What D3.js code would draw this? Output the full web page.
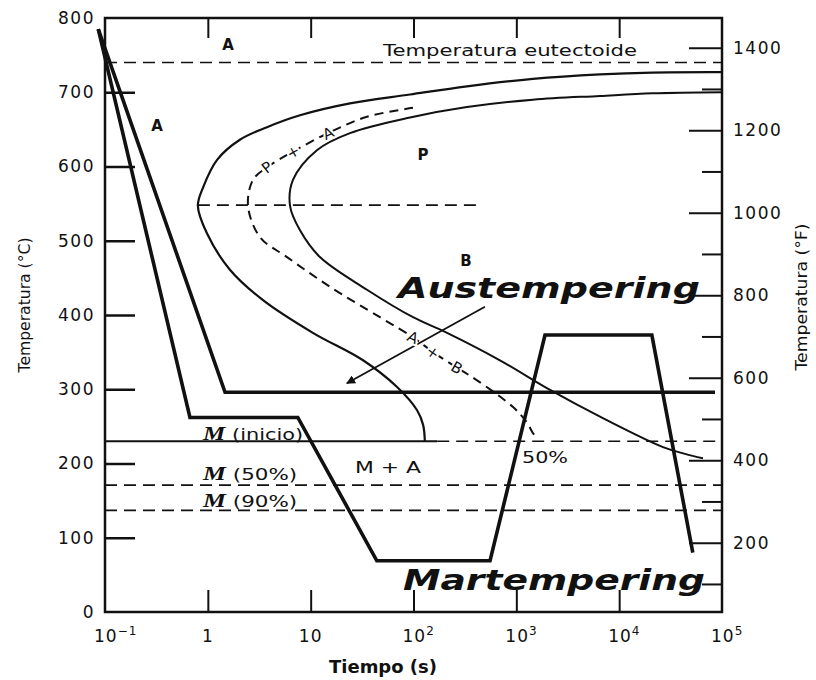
<!DOCTYPE html>
<html>
<head>
<meta charset="utf-8">
<script src="https://cdn.jsdelivr.net/npm/d3@7"></script>
<style>
  body { margin: 0; background: #fff; }
  text { font-family: "DejaVu Sans", sans-serif; fill: #111; }
</style>
</head>
<body>
<div id="chart"></div>
<script>
const width = 816;
const height = 680;

// axes
const decades = [0.1, 1, 10, 100, 1000, 10000, 100000];
const decadeBase = ["10", "1", "10", "10", "10", "10", "10"];
const decadeSup = ["\u22121", "", "", "2", "3", "4", "5"];
const innerDecades = [1, 10, 100, 1000, 10000];
const tempTicksC = [0, 100, 200, 300, 400, 500, 600, 700, 800];
const tempTicksF = [200, 400, 600, 800, 1000, 1200, 1400];
const tempMinorF = [100, 300, 500, 700, 900, 1100, 1300];

// transformation curves, [time (s), temperature (°C)]
const startCurve = [
  [100000, 727], [21000, 726.5], [6510, 724], [1450, 718], [331, 708], [92.5, 697],
  [24.1, 685], [7.88, 669], [3.76, 653], [2.05, 636], [1.23, 609], [0.90, 572], [0.80, 547],
  [0.98, 510], [1.64, 461], [3.44, 420], [10.5, 376], [32.3, 339], [69.2, 303],
  [108, 272], [124, 252], [129, 229]
];
const halfCurve = [
  [98.9, 679], [35.3, 667], [14.8, 645], [6.73, 620], [3.76, 599], [2.75, 582],
  [2.46, 547], [3.21, 505], [5.89, 478], [15.4, 438], [47.2, 397], [98.9, 370],
  [155, 350], [265, 329], [415, 312], [929, 276], [1270, 255], [1450, 241], [1630, 233]
];
const finishCurve = [
  [100000, 700], [21000, 698.5], [6510, 695], [1450, 690], [331, 680], [92.5, 666],
  [24.1, 645], [11.5, 622], [6.73, 582], [6.30, 547], [7.88, 514], [12.3, 478], [35.3, 434],
  [98.9, 397], [212, 376], [693, 339], [2130, 299], [6510, 263], [26700, 222],
  [43700, 213], [65300, 207]
];

// heat treatment paths
const austempering = [[0.086, 785], [1.47, 296], [85500, 296]];
const martempering = [
  [0.086, 785], [0.67, 262], [7.5, 262], [44, 69], [555, 69],
  [1900, 373], [20800, 373], [52000, 80]
];

const eutectoidTemp = 740;
const noseTemp = 548;
const noseRange = [0.80, 463];
const msTemp = 230;
const msSolidEnd = 170;
const m50Temp = 171;
const m90Temp = 137;
const arrowFrom = [495, 411];
const arrowTo = [22.5, 308];

const svg = d3.select("#chart").append("svg")
  .attr("width", width)
  .attr("height", height);

const mLeft = 105, mRight = 722, mTop = 18, mBottom = 612;

const x = d3.scaleLog().domain([0.1, 100000]).range([mLeft, mRight]);
const y = d3.scaleLinear().domain([0, 800]).range([mBottom, mTop]);
// 0 °C = 32 °F, 800 °C = 1472 °F
const yF = d3.scaleLinear().domain([32, 1472]).range([mBottom, mTop]);

const smooth = d3.line().x(d => x(d[0])).y(d => y(d[1])).curve(d3.curveCatmullRom.alpha(0.5));
const straight = d3.line().x(d => x(d[0])).y(d => y(d[1]));

// frame
svg.append("rect")
  .attr("x", mLeft).attr("y", mTop)
  .attr("width", mRight - mLeft).attr("height", mBottom - mTop)
  .attr("fill", "none").attr("stroke", "#111").attr("stroke-width", 2.5);

// left axis
svg.append("g")
  .attr("transform", `translate(${mLeft},0)`)
  .call(d3.axisLeft(y).tickValues(tempTicksC).tickSize(-30).tickPadding(10))
  .call(g => g.select(".domain").remove())
  .call(g => g.selectAll(".tick line").filter(d => d === 0 || d === 800).remove())
  .call(g => g.selectAll(".tick line").attr("stroke", "#111").attr("stroke-width", 2.5))
  .call(g => g.selectAll("text").attr("font-family", "DejaVu Sans").attr("font-size", 17)
    .attr("letter-spacing", 1.5).attr("fill", "#111"));

// right axis (°F)
svg.append("g")
  .attr("transform", `translate(${mRight},0)`)
  .call(d3.axisRight(yF).tickValues(tempTicksF).tickSize(-33).tickPadding(11).tickFormat(d3.format("d")))
  .call(g => g.select(".domain").remove())
  .call(g => g.selectAll(".tick line").attr("stroke", "#111").attr("stroke-width", 2))
  .call(g => g.selectAll("text").attr("font-family", "DejaVu Sans").attr("font-size", 17)
    .attr("letter-spacing", 1.5).attr("fill", "#111"));

svg.append("g")
  .attr("transform", `translate(${mRight},0)`)
  .call(d3.axisRight(yF).tickValues(tempMinorF).tickSize(-20).tickFormat(""))
  .call(g => g.select(".domain").remove())
  .call(g => g.selectAll(".tick line").attr("stroke", "#111").attr("stroke-width", 2));

// bottom and top ticks
svg.append("g")
  .attr("transform", `translate(0,${mBottom})`)
  .call(d3.axisBottom(x).tickValues(innerDecades).tickSize(-22).tickFormat(""))
  .call(g => g.select(".domain").remove())
  .call(g => g.selectAll(".tick line").attr("stroke", "#111").attr("stroke-width", 2));

svg.append("g")
  .attr("transform", `translate(0,${mTop})`)
  .call(d3.axisTop(x).tickValues(innerDecades).tickSize(-20).tickFormat(""))
  .call(g => g.select(".domain").remove())
  .call(g => g.selectAll(".tick line").attr("stroke", "#111").attr("stroke-width", 2));

// time labels
const tl = svg.append("g").selectAll("text")
  .data(decades)
  .join("text")
  .attr("x", (d, i) => decadeSup[i] ? x(d) - 11 : x(d))
  .attr("y", 642)
  .attr("text-anchor", (d, i) => decadeSup[i] ? "start" : "middle")
  .attr("font-size", 17)
  .attr("letter-spacing", 1);
tl.append("tspan").text((d, i) => decadeBase[i]);
tl.append("tspan").attr("font-size", 12).attr("dy", -7).text((d, i) => decadeSup[i]);

// axis titles
svg.append("text")
  .attr("x", 383).attr("y", 673)
  .attr("text-anchor", "middle")
  .attr("font-family", "Liberation Sans")
  .attr("font-weight", "bold")
  .attr("font-size", 17)
  .attr("textLength", 108).attr("lengthAdjust", "spacingAndGlyphs")
  .text("Tiempo (s)");

svg.append("text")
  .attr("transform", "translate(30,305) rotate(-90)")
  .attr("text-anchor", "middle")
  .attr("font-family", "Liberation Sans Narrow, Liberation Sans")
  .attr("font-size", 16)
  .attr("textLength", 135).attr("lengthAdjust", "spacingAndGlyphs")
  .text("Temperatura (°C)");

svg.append("text")
  .attr("transform", "translate(807,297) rotate(-90)")
  .attr("text-anchor", "middle")
  .attr("font-family", "Liberation Sans Narrow, Liberation Sans")
  .attr("font-size", 16)
  .attr("textLength", 147).attr("lengthAdjust", "spacingAndGlyphs")
  .text("Temperatura (°F)");

// horizontal reference lines
const dashed = "12,7";
function hline(t0, t1, temp, dash, w) {
  svg.append("line")
    .attr("x1", x(t0)).attr("x2", x(t1))
    .attr("y1", y(temp)).attr("y2", y(temp))
    .attr("stroke", "#111").attr("stroke-width", w)
    .attr("stroke-dasharray", dash);
}
hline(0.1, 100000, eutectoidTemp, dashed, 1.6);
hline(noseRange[0], noseRange[1], noseTemp, dashed, 1.6);
hline(0.1, msSolidEnd, msTemp, null, 2);
hline(msSolidEnd, 100000, msTemp, dashed, 1.6);
hline(0.1, 100000, m50Temp, dashed, 1.8);
hline(0.1, 100000, m90Temp, dashed, 1.8);

// transformation curves
svg.append("path").attr("d", smooth(startCurve))
  .attr("fill", "none").attr("stroke", "#111").attr("stroke-width", 2.2);
svg.append("path").attr("d", smooth(finishCurve))
  .attr("fill", "none").attr("stroke", "#111").attr("stroke-width", 2);
svg.append("path").attr("d", smooth(halfCurve))
  .attr("fill", "none").attr("stroke", "#111").attr("stroke-width", 2)
  .attr("stroke-dasharray", "9,6");

// cooling paths
[austempering, martempering].forEach(p => {
  svg.append("path").attr("d", straight(p))
    .attr("fill", "none").attr("stroke", "#111").attr("stroke-width", 3.6)
    .attr("stroke-linejoin", "miter");
});

// arrow
svg.append("defs").append("marker")
  .attr("id", "head")
  .attr("viewBox", "0 0 10 10")
  .attr("refX", 9).attr("refY", 5)
  .attr("markerWidth", 9).attr("markerHeight", 9)
  .attr("markerUnits", "userSpaceOnUse")
  .attr("orient", "auto")
  .append("path").attr("d", "M0,0L10,5L0,10Z").attr("fill", "#111");
svg.append("line")
  .attr("x1", x(arrowFrom[0])).attr("y1", y(arrowFrom[1]))
  .attr("x2", x(arrowTo[0])).attr("y2", y(arrowTo[1]))
  .attr("stroke", "#111").attr("stroke-width", 1.8)
  .attr("marker-end", "url(#head)");

// labels along the 50% curve
const curveLabels = [
  ["P", 3.76, 599, -38], ["+", 6.73, 620, -30], ["A", 14.8, 645, -25],
  ["A", 98.9, 370, 25], ["+", 155, 350, 35], ["B", 265, 329, 30]
];
svg.append("g").selectAll("text")
  .data(curveLabels)
  .join("text")
  .attr("transform", d => `translate(${x(d[1])},${y(d[2])}) rotate(${d[3]})`)
  .attr("dy", "0.36em")
  .attr("text-anchor", "middle")
  .attr("font-size", 15)
  .attr("stroke", "#fff").attr("stroke-width", 4).attr("paint-order", "stroke")
  .text(d => d[0]);

// region labels [text, time, temp(baseline), size, weight, length]
const regionLabels = [
  ["A", 1.57, 757, 15, "bold", null],
  ["A", 0.32, 648, 15, "bold", null],
  ["P", 124, 609, 15, "bold", null],
  ["B", 324, 466, 15, "bold", null],
  ["M + A", 56.5, 187, 15, "normal", 66],
  ["50%", 1900, 201, 15, "normal", 46],
  ["Temperatura eutectoide", 869, 749, 15, "normal", 254]
];
svg.append("g").selectAll("text")
  .data(regionLabels)
  .join("text")
  .attr("x", d => x(d[1]))
  .attr("y", d => y(d[2]))
  .attr("text-anchor", "middle")
  .attr("font-size", d => d[3])
  .attr("font-weight", d => d[4])
  .attr("textLength", d => d[5])
  .attr("lengthAdjust", "spacingAndGlyphs")
  .text(d => d[0]);

// martensite labels
const mLabels = [["(inicio)", 232, 100], ["(50%)", 178, 94], ["(90%)", 141, 94]];
const ml = svg.append("g").selectAll("text")
  .data(mLabels)
  .join("text")
  .attr("x", x(0.9))
  .attr("y", d => y(d[1]))
  .attr("font-size", 15)
  .attr("textLength", d => d[2])
  .attr("lengthAdjust", "spacingAndGlyphs");
ml.append("tspan").attr("font-family", "Liberation Serif").attr("font-size", 18)
  .attr("font-weight", "bold").attr("font-style", "italic").text("M");
ml.append("tspan").text(d => " " + d[0]);

// treatment names
const names = [["Austempering", 70.6, 423], ["Martempering", 79, 29.6]];
svg.append("g").selectAll("text")
  .data(names)
  .join("text")
  .attr("x", d => x(d[1]))
  .attr("y", d => y(d[2]))
  .attr("font-size", 28)
  .attr("font-weight", "bold")
  .attr("font-style", "italic")
  .attr("textLength", 302)
  .attr("lengthAdjust", "spacingAndGlyphs")
  .text(d => d[0]);
</script>
</body>
</html>
